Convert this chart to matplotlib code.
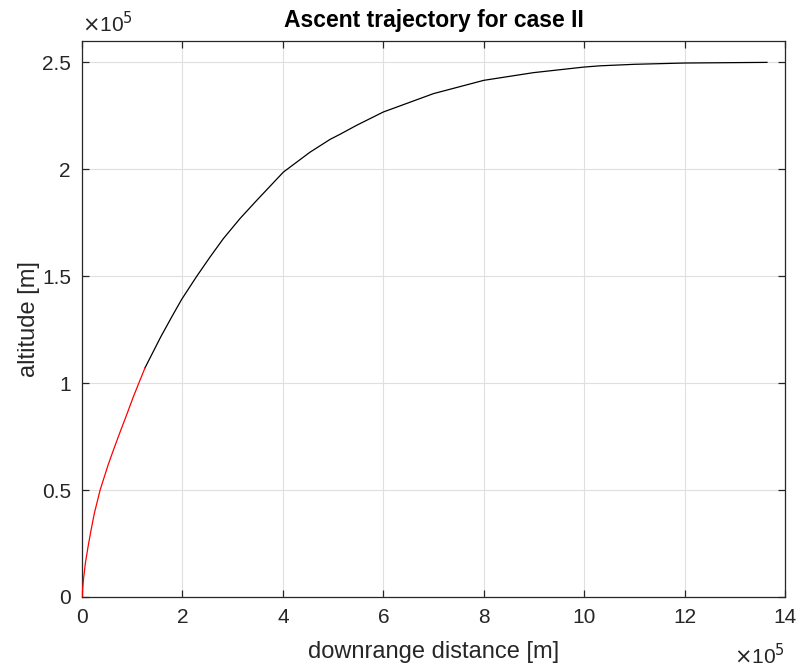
"""Ascent trajectory for case II, redrawn in a MATLAB-like style."""

import matplotlib
matplotlib.use("Agg")
import matplotlib.pyplot as plt
from matplotlib.ticker import FuncFormatter

plt.rcParams["font.family"] = ["Liberation Sans", "DejaVu Sans"]

SCALE = 1e5

# powered (first) phase, red  (values in units of 1e5 m)
red_x = [0.0, 0.027, 0.066, 0.12, 0.18, 0.245, 0.36, 0.52, 0.645, 0.77,
         0.897, 1.02, 1.155, 1.255]
red_y = [0.0, 0.079, 0.157, 0.235, 0.313, 0.391, 0.50, 0.618, 0.70, 0.779,
         0.857, 0.935, 1.014, 1.072]

# remaining ascent, black
black_x = [1.255, 1.567, 1.787, 1.985, 2.285, 2.55, 2.815, 3.147, 3.48, 4.01,
           4.54, 4.94, 5.14, 5.47, 6.0, 7.0, 8.0, 8.99, 9.99, 10.32, 11.0,
           12.0, 13.64]
black_y = [1.072, 1.216, 1.31, 1.392, 1.50, 1.59, 1.676, 1.77, 1.855, 1.987,
           2.08, 2.14, 2.164, 2.206, 2.268, 2.354, 2.416, 2.452, 2.478, 2.484,
           2.491, 2.497, 2.50]

x_ticks = [0, 2, 4, 6, 8, 10, 12, 14]
y_ticks = [0, 0.5, 1, 1.5, 2, 2.5]

AX_COLOR = "#262626"

fig = plt.figure(figsize=(8.01, 6.71), dpi=100)
ax = fig.add_axes([0.1024, 0.1103, 0.8777, 0.8286])

ax.plot([v * SCALE for v in black_x], [v * SCALE for v in black_y],
        color="black", linewidth=0.9, zorder=3)
ax.plot([v * SCALE for v in red_x], [v * SCALE for v in red_y],
        color="red", linewidth=0.9, zorder=4)

ax.set_xlim(0, 14 * SCALE)
ax.set_ylim(0, 2.6 * SCALE)
ax.set_xticks([t * SCALE for t in x_ticks])
ax.set_yticks([t * SCALE for t in y_ticks])
fmt = FuncFormatter(lambda v, _: f"{v / SCALE:g}")
ax.xaxis.set_major_formatter(fmt)
ax.yaxis.set_major_formatter(fmt)

ax.grid(True, color="#dfdfdf", linewidth=0.8)
ax.set_axisbelow(True)

ax.tick_params(axis="both", direction="in", length=5, width=0.9,
               colors=AX_COLOR, labelsize=15, top=True, right=True)
ax.tick_params(axis="x", pad=8)
ax.tick_params(axis="y", pad=8)
for spine in ax.spines.values():
    spine.set_color(AX_COLOR)
    spine.set_linewidth(0.9)

ax.set_title("Ascent trajectory for case II", fontsize=16.5, fontweight="bold",
             color="black", pad=10)
ax.set_xlabel("downrange distance [m]", fontsize=17, color=AX_COLOR, labelpad=10)
ax.set_ylabel("altitude [m]", fontsize=17, color=AX_COLOR, labelpad=1.5)

# MATLAB-style exponent labels
ax.text(0.0, 1.008, r"$\times$10$^5$", transform=ax.transAxes, fontsize=15,
        color=AX_COLOR, ha="left", va="bottom")
ax.text(1.0, -0.083, r"$\times$10$^5$", transform=ax.transAxes, fontsize=15,
        color=AX_COLOR, ha="right", va="top")

fig.savefig("out.png", dpi=100, facecolor="white")
